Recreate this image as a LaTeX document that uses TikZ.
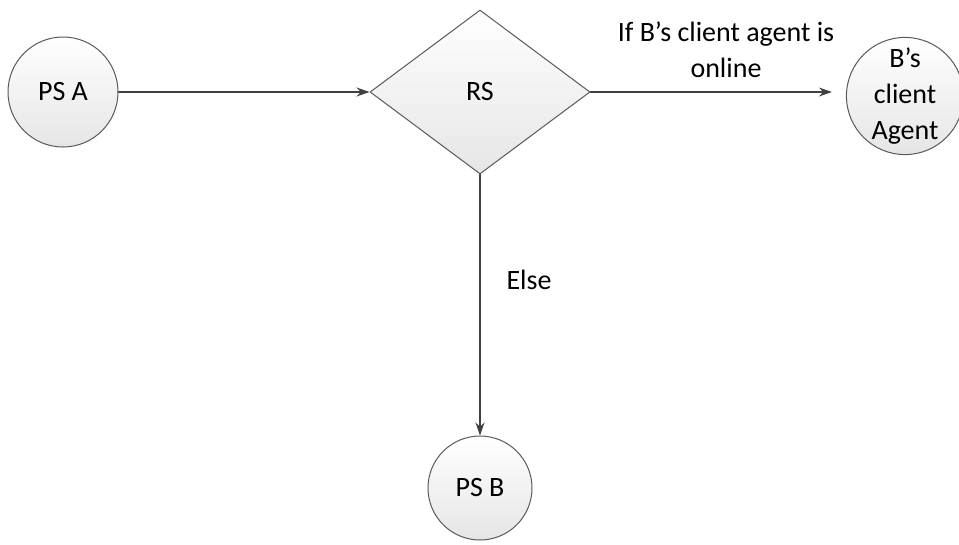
\documentclass[tikz,border=0pt]{standalone}
\usepackage{fontspec}
\setmainfont{Carlito}
\usetikzlibrary{arrows.meta,shapes.geometric}

\begin{document}
\begin{tikzpicture}[x=1pt,y=-1pt,line join=round,line cap=round,
	font=\fontsize{28}{36}\selectfont,
	shaded box/.style={draw=black!65,line width=1pt,top color=white,bottom color=black!10},
	station/.style={shaded box,circle,inner sep=0pt},
	flow/.style={draw=black!75,line width=1.1pt,-{Stealth[length=13pt,width=9pt]}}]
	\def\rA{55}
	\def\rB{52}
	\useasboundingbox (0,0) rectangle (959,544);
	% stations and the relay
	\node[station,minimum size=2*\rA] (psa) at (63,92) {PS A};
	\node[shaded box,diamond,inner sep=0pt,minimum width=220pt,minimum height=164pt] (rs) at (480,92) {RS};
	\node[station,minimum size=2*\rB,align=center] (agent) at (905,96) {B’s\\client\\Agent};
	\node[station,minimum size=2*\rB] (psb) at (480,488) {PS B};
	% connectors
	\draw[flow] (psa) -- (rs);
	\draw[flow,shorten >=14pt] (rs.east) -- (rs.east -| agent.west);
	\draw[flow] (rs) -- (psb);
	\node[align=center] (online) at (726,50) {If B’s client agent is\\online};
	\node (else) at (529,280) {Else};
\end{tikzpicture}
\end{document}
